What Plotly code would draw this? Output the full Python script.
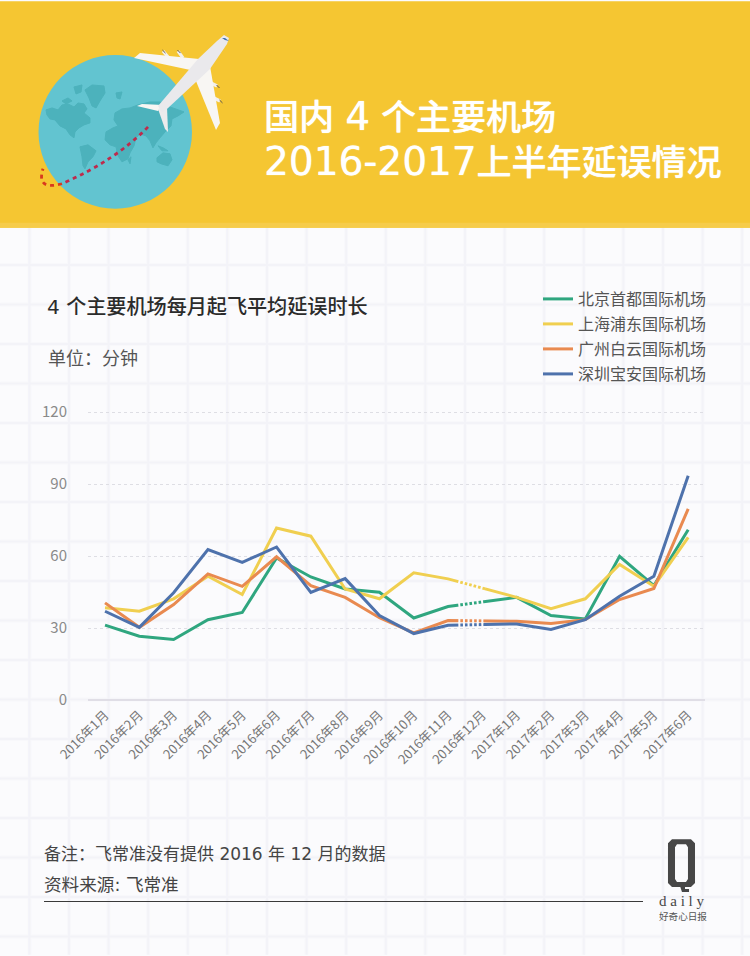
import numpy as np
import plotly.graph_objects as go

# Data. There is no 2016-12 figure in the source, so the
# 12th value is just where the bridge line passes (drawn dotted over the line)
months = ['2016年1月', '2016年2月', '2016年3月', '2016年4月', '2016年5月', '2016年6月',
          '2016年7月', '2016年8月', '2016年9月', '2016年10月', '2016年11月', '2016年12月',
          '2017年1月', '2017年2月', '2017年3月', '2017年4月', '2017年5月', '2017年6月']
beijing = [31.2, 26.6, 25.2, 33.5, 36.5, 59.2, 51.3, 46.3, 44.9, 34.2, 39.0, 40.8, 42.8, 35.2, 33.8, 59.9, 47.7, 71.0]
shanghai = [38.5, 37.0, 42.2, 51.6, 44.0, 71.7, 68.3, 46.3, 42.2, 53.0, 50.5, 46.7, 42.8, 38.1, 42.2, 56.5, 47.4, 67.8]
guangzhou = [40.5, 30.3, 39.8, 52.6, 47.4, 59.7, 47.7, 42.8, 34.3, 28.0, 33.1, 33.0, 32.8, 31.9, 33.5, 41.9, 46.5, 79.7]
shenzhen = [37.0, 30.3, 44.7, 62.7, 57.4, 63.8, 44.9, 50.6, 35.2, 27.7, 31.2, 31.5, 31.7, 29.4, 33.5, 43.3, 51.6, 93.5]

names = ['北京首都国际机场', '上海浦东国际机场', '广州白云国际机场', '深圳宝安国际机场']
colors = ['#2FA67F', '#F0CF50', '#E98A50', '#4E72AC']
yticks = [0, 30, 60, 90, 120]

W, H = 750, 956
L, R, T, B = 88, 705, 410.8, 700.5
CJK = 'Noto Sans CJK SC'
MIXED = 'DejaVu Sans, Noto Sans CJK SC'
GLOW = '0 0 1px rgba(255,255,255,0.9)'


# pixel position of the page -> paper coordinates of the plot
def px(x):
    return (x - L) / (R - L)


def py(y):
    return (B - y) / (B - T)


def poly(pts):
    return 'M' + 'L'.join(f'{px(x):.4f},{py(y):.4f}' for x, y in pts) + 'Z'


def seg(x0, y0, x1, y1):
    return f'M{px(x0):.4f},{py(y0):.4f}L{px(x1):.4f},{py(y1):.4f}'


def shape_path(d, fill=None, line=None, width=0, layer='above', dash=None):
    s = dict(type='path', xref='paper', yref='paper', path=d, layer=layer,
             line=dict(width=width, color=line or 'rgba(0,0,0,0)'))
    if fill:
        s['fillcolor'] = fill
    if dash:
        s['line']['dash'] = dash
    return s


def rect(x0, y0, x1, y1, fill, layer='below'):
    return dict(type='rect', xref='paper', yref='paper', x0=px(x0), x1=px(x1), y0=py(y0), y1=py(y1),
                fillcolor=fill, line=dict(width=0), layer=layer)


def note(x, y, text, size, color, family=MIXED, anchor='left', weight=None, shadow=None):
    f = dict(size=size, color=color, family=family, weight=weight)
    if shadow:
        f['shadow'] = shadow
    return dict(xref='paper', yref='paper', x=px(x), y=py(y), text=text, showarrow=False,
                xanchor=anchor, yanchor='middle', align='left', font=f)


shapes = []

# grid paper background
shapes.append(rect(0, 0, W, H, '#FBFBFD'))
gx = [29.4 + 39.6 * i for i in range(-1, 20)]
gy = [224.8 + 39.6 * i for i in range(1, 19)]
grid = ''.join(seg(x, H, x, 226) for x in gx) + ''.join(seg(0, y, W, y) for y in gy)
shapes.append(shape_path(grid, line='#F8F8FB', width=4, layer='below'))
shapes.append(shape_path(grid, line='#F3F3F8', width=2, layer='below'))

# yellow header
shapes.append(rect(0, 0, W, 227, '#F5C632'))
shapes.append(rect(0, 222, W, 227, '#F6CC4A'))

# globe
shapes.append(dict(type='circle', xref='paper', yref='paper', x0=px(38.5), x1=px(192), y0=py(54), y1=py(208),
                   fillcolor='#62C4D0', line=dict(width=0), layer='above'))

# continents, rough outlines
continents = [
    # north america
    [(46, 109), (52, 107), (58, 109), (62, 104), (68, 103), (74, 106), (78, 102), (84, 103), (87, 108), (84, 112),
     (90, 117), (90, 122), (84, 124), (79, 127), (75, 131), (74, 137), (70, 134), (66, 128), (60, 125), (55, 119),
     (50, 118), (47, 114)],
    [(62, 100), (68, 97), (72, 100), (66, 103)],
    # greenland
    [(85, 89), (92, 84), (104, 85), (105, 92), (100, 100), (96, 107), (92, 105), (89, 97)],
    [(74, 86), (82, 84), (81, 91), (76, 93)],
    [(116, 92), (122, 91), (120, 98), (117, 97)],
    # south america
    [(80, 146), (88, 144), (96, 150), (93, 156), (88, 161), (85, 168), (83, 165), (82, 156)],
    # eurasia and africa
    [(115, 112), (122, 108), (130, 107), (138, 104), (150, 101), (160, 101), (170, 106), (184, 111), (178, 115),
     (172, 118), (171, 125), (165, 131), (160, 137), (156, 142), (153, 147), (150, 140), (146, 135), (140, 133),
     (136, 137), (134, 145), (130, 152), (128, 158), (122, 161), (118, 155), (116, 146), (110, 144), (105, 139),
     (106, 131), (113, 127), (118, 125), (114, 119)],
    # australia and islands
    [(157, 157), (163, 152), (170, 153), (172, 159), (168, 165), (161, 163), (157, 161)],
    [(158, 145), (163, 147), (168, 150), (162, 150)],
    [(128, 159), (131, 156), (130, 163)],
]
for c in continents:
    shapes.append(shape_path(poly(c), fill='#4CB2BC', line='#4CB2BC', width=1))

# flight path
shapes.append(shape_path(f'M{px(148)},{py(126)}Q{px(115)},{py(160)} {px(62)},{py(183)}',
                         line='#BE2B4C', width=2.8, dash='4px,4px'))
shapes.append(shape_path(f'M{px(62)},{py(183)}Q{px(36)},{py(190)} {px(43)},{py(168)}',
                         line='#D8391E', width=2.8, dash='4px,4px'))

# plane: engines first so the wings sit over them
for x0, y0, x1, y1 in [(163, 50, 168, 56), (178, 50, 183, 57), (217, 85, 211, 82), (220, 100, 214, 97)]:
    shapes.append(shape_path(seg(x0, y0, x1, y1), line='#F2F0EE', width=3.2))
    shapes.append(shape_path(seg(x0 - 0.5, y0 - 1, x0 + 2.5, y0 + 2), line='#5E574E', width=1))
wing_color = '#F8F6F3'
shapes.append(shape_path(poly([(134, 57), (140, 52), (199, 58), (195, 70)]), fill=wing_color))
shapes.append(shape_path(poly([(196, 80), (210, 65), (220, 122), (216, 129)]), fill=wing_color))
shapes.append(shape_path(poly([(137, 105), (142, 103), (163, 104), (158, 110)]), fill=wing_color))
shapes.append(shape_path(poly([(158, 108), (167, 105), (168, 131), (165, 128)]), fill='#ECEBEC'))
shapes.append(shape_path(poly([(224, 34), (229, 37), (227, 43), (210, 68), (167, 108), (162, 111), (158, 105),
                               (198, 58), (217, 40)]), fill='#EAE9EC'))
shapes.append(shape_path(poly([(222, 37), (225, 37), (229, 40), (225, 39)]), fill='#3C6FB0'))

# logo and footer rule
shapes.append(shape_path(poly([(44, 902), (643, 902), (643, 903), (44, 903)]), fill='#3A3A3A'))
shapes.append(shape_path(
    poly([(672, 840), (691, 840), (695, 844), (695, 884), (691, 888), (672, 888), (668, 884), (668, 844)])
    + poly([(677, 845), (686, 845), (688, 848), (688, 880), (686, 883), (677, 883), (675, 880), (675, 848)]),
    fill='#474747'))
shapes.append(shape_path(poly([(680, 887), (685, 887), (685, 890), (689, 890), (689, 893), (682, 893)]), fill='#474747'))

annotations = [
    note(262, 116, '国内 <span style="font-size:39px">4</span> 个主要机场', 35, 'white', weight=500, shadow=GLOW),
    note(262, 161, '<span style="font-size:39px">2016-2017</span>上半年延误情况', 35, 'white', weight=500, shadow=GLOW),
    note(45, 307, '4 个主要机场每月起飞平均延误时长', 20.1, '#2B2B2B', weight=500),
    note(46, 358, '单位：分钟', 18, '#555555'),
    note(42, 855, '备注：飞常准没有提供 2016 年 12 月的数据', 17, '#444444'),
    note(42, 886, '资料来源: 飞常准', 17.6, '#444444'),
    note(657, 901.5, 'd a i l y', 15, '#474747', family='Liberation Sans Narrow'),
    note(657, 917.5, '好奇心日报', 9.6, '#555555', family=CJK),
]

x_idx = list(range(len(months)))
fig = go.Figure()
for name, vals, col in zip(names, [beijing, shanghai, guangzhou, shenzhen], colors):
    fig.add_trace(go.Scatter(x=x_idx, y=vals, name=name, mode='lines', legendgroup=name,
                             line=dict(color=col, width=3)))

# white dots over the stretch with no data
gap = [10.3, 11.08]
for vals in [beijing, shanghai, guangzhou, shenzhen]:
    fig.add_trace(go.Scatter(x=gap, y=np.interp(gap, x_idx, vals), mode='lines', showlegend=False,
                             hoverinfo='skip', line=dict(color='#FBFBFD', width=5, dash='2px,2.6px')))

fig.update_layout(
    width=W, height=H,
    margin=dict(l=L, r=W - R, t=T, b=H - B),
    paper_bgcolor='#FBFBFD', plot_bgcolor='rgba(0,0,0,0)',
    font=dict(family=CJK),
    shapes=shapes, annotations=annotations,
    legend=dict(x=px(538), y=py(281.5), xanchor='left', yanchor='top', bgcolor='rgba(0,0,0,0)',
                font=dict(size=16, color='#555555', family=CJK), itemwidth=30, tracegroupgap=1.2),
    xaxis=dict(range=[-0.496, 17.49], tickvals=x_idx, ticktext=months, tickangle=-45, showgrid=False,
               zeroline=False, showline=False, ticks='', ticklabelstandoff=4,
               tickfont=dict(size=13, color='#777777', family=CJK)),
    yaxis=dict(range=[0, 120.5], tickvals=yticks, showgrid=True, gridcolor='#DEDEE4', griddash='dot', gridwidth=1,
               zeroline=True, zerolinecolor='#E0DEE6', zerolinewidth=2, showline=False, ticks='',
               ticklabelstandoff=20, tickfont=dict(size=15, color='#8A8A8A', family=CJK)),
)

fig.write_html("out.html", config={'displayModeBar': False}, post_script="document.body.style.margin='0';")
